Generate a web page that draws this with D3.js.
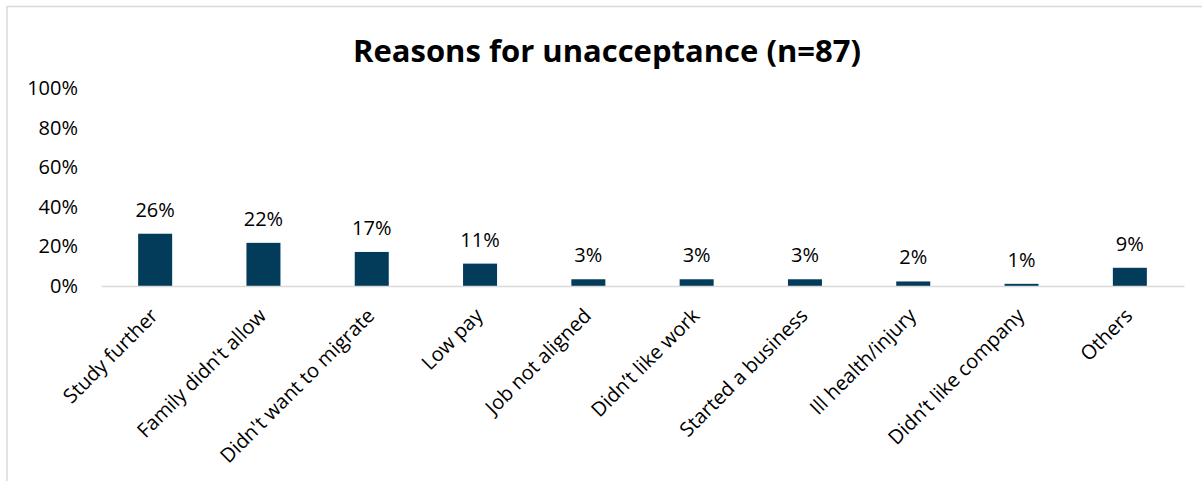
<!DOCTYPE html>
<html>
<head>
<meta charset="utf-8">
<script src="https://cdn.jsdelivr.net/npm/d3@7"></script>
<style>
    body { margin: 0; background: #fff; }
    svg { font-family: "Open Sans", sans-serif; }
</style>
</head>
<body>
<svg width="1203" height="481"></svg>
<script>
// data (share of n=87)
let reasons = ["Study further", "Family didn't allow", "Didn't want to migrate", "Low pay",
    "Job not aligned", "Didn\u2019t like work", "Started a business", "Ill health/injury",
    "Didn\u2019t like company", "Others"];
let shares = [26.4, 21.8, 17.2, 11.3, 3.4, 3.4, 3.4, 2.3, 1.1, 9.2];
let yTicks = [0, 20, 40, 60, 80, 100];
let title = "Reasons for unacceptance (n=87)";

let svg = d3.select("svg");
let margin = { top: 88, right: 19, bottom: 195, left: 101 },
    width = +svg.attr("width") - margin.left - margin.right,
    height = +svg.attr("height") - margin.top - margin.bottom;

let data = reasons.map((r, i) => ({ reason: r, share: shares[i] }));

// chart border (only top and left visible in the crop)
svg.append("path")
    .attr("d", "M7,481 V6.5 H1202")
    .attr("fill", "none")
    .attr("stroke", "#d9d9d9")
    .attr("stroke-width", 1.5);

svg.append("text")
    .attr("x", 607)
    .attr("y", 62)
    .attr("text-anchor", "middle")
    .style("font-size", "31px")
    .style("font-weight", "bold")
    .attr("fill", "#000")
    .text(title);

let x = d3.scaleBand()
    .domain(reasons)
    .range([0, width])
    .paddingInner(0.686)
    .paddingOuter(0.343);

let y = d3.scaleLinear()
    .domain([0, 100])
    .range([height, 0]);

let g = svg.append("g")
    .attr("transform", "translate(" + margin.left + "," + margin.top + ")");

// y axis, labels only
let yAxis = g.append("g")
    .call(d3.axisLeft(y).tickValues(yTicks).tickSize(0).tickPadding(23).tickFormat(d => d + "%"));
yAxis.select(".domain").remove();
yAxis.selectAll("text")
    .style("font-family", "Open Sans")
    .style("font-size", "20px")
    .attr("fill", "#000");

g.selectAll(".bar")
    .data(data)
    .enter()
    .append("rect")
    .classed("bar", true)
    .attr("x", d => x(d.reason))
    .attr("y", d => y(d.share))
    .attr("width", x.bandwidth())
    .attr("height", d => height - y(d.share))
    .attr("fill", "#023c5a");

g.selectAll(".val")
    .data(data)
    .enter()
    .append("text")
    .classed("val", true)
    .attr("x", d => x(d.reason) + x.bandwidth() / 2)
    .attr("y", d => y(d.share) - 17)
    .attr("text-anchor", "middle")
    .style("font-size", "20px")
    .attr("fill", "#000")
    .text(d => Math.round(d.share) + "%");

// x axis
let xAxis = g.append("g")
    .attr("transform", "translate(0," + height + ")")
    .call(d3.axisBottom(x).tickSize(0));
xAxis.select(".domain")
    .attr("stroke", "#d9d9d9")
    .attr("stroke-width", 1.5);
xAxis.selectAll("text")
    .attr("x", 0)
    .attr("y", 0)
    .attr("dy", 0)
    .attr("text-anchor", "end")
    .attr("transform", "translate(4,31) rotate(-45)")
    .style("font-family", "Open Sans")
    .style("font-size", "20px")
    .attr("fill", "#000");
</script>
</body>
</html>
